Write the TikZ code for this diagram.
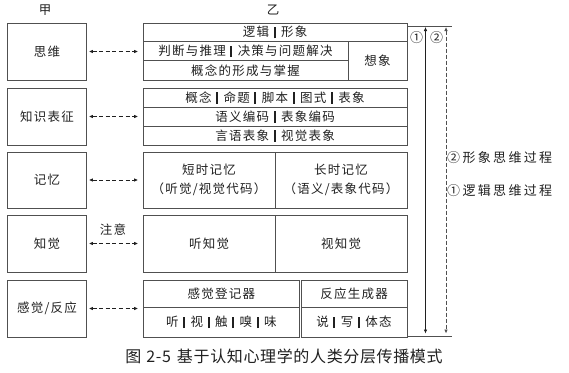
\documentclass[tikz,border=0pt]{standalone}
\usepackage{fontspec}
\setmainfont{Noto Sans CJK SC}
\newfontfamily\bodyf[LetterSpace=10]{Noto Sans CJK SC}
\newfontfamily\sidef[LetterSpace=18]{Noto Sans CJK SC}
\newfontfamily\capf[LetterSpace=4]{Noto Sans CJK SC}
\usetikzlibrary{arrows.meta}
\definecolor{linec}{HTML}{505050}
\definecolor{textc}{HTML}{202020}
\newcommand{\sepbar}{\hspace{4.5pt}\rule[-1.5pt]{2pt}{11.5pt}\hspace{5.5pt}}
\tikzset{
  cell/.style={draw=linec, line width=0.8pt, inner sep=0pt, text=textc,
    font=\bodyf\fontsize{12.5}{19}\selectfont, align=center},
  lbl/.style={inner sep=0pt, text=textc, font=\bodyf\fontsize{12.5}{19}\selectfont},
  dar/.style={draw=textc, line width=0.8pt, dash pattern=on 4pt off 2.6pt,
    {Latex[length=4pt,width=3.6pt]}-{Latex[length=4pt,width=3.6pt]},
    shorten <=2pt, shorten >=4.5pt},
}
\begin{document}
\begin{tikzpicture}[x=1pt,y=-1pt]
\useasboundingbox (0,0) rectangle (569,372);
% headers
\node[lbl] (hj) at (45,10) {甲};
\node[lbl] (hy) at (273,10) {乙};
% left column
\node[cell, minimum width=79pt, minimum height=57pt] (s1) at (47,51.5) {思维};
\node[cell, minimum width=79pt, minimum height=57pt] (s2) at (47,116.5) {知识表征};
\node[cell, minimum width=79pt, minimum height=56pt] (s3) at (47,180) {记忆};
\node[cell, minimum width=79pt, minimum height=57pt] (s4) at (47,243.5) {知觉};
\node[cell, minimum width=79pt, minimum height=57pt] (s5) at (47,308.5) {感觉/反应};
% section 1: thinking
\node[cell, minimum width=264pt, minimum height=18.5pt] (r1a) at (275,32.25) {逻辑\sepbar 形象};
\node[cell, minimum width=205pt, minimum height=19pt] (r1b) at (245.5,51) {判断与推理\sepbar 决策与问题解决};
\node[cell, minimum width=205pt, minimum height=19.5pt] (r1c) at (245.5,70.25) {概念的形成与掌握};
\node[cell, minimum width=59pt, minimum height=38.5pt] (r1d) at (377.5,60.75) {想象};
% section 2: knowledge representation
\node[cell, minimum width=264pt, minimum height=19pt] (r2a) at (275,97.5) {概念\sepbar 命题\sepbar 脚本\sepbar 图式\sepbar 表象};
\node[cell, minimum width=264pt, minimum height=19pt] (r2b) at (275,116.5) {语义编码\sepbar 表象编码};
\node[cell, minimum width=264pt, minimum height=19pt] (r2c) at (275,135.5) {言语表象\sepbar 视觉表象};
% section 3: memory
\node[cell, minimum width=132pt, minimum height=56pt] (r3a) at (209,180) {短时记忆\\（听觉/视觉代码）};
\node[cell, minimum width=132pt, minimum height=56pt] (r3b) at (341,180) {长时记忆\\（语义/表象代码）};
% section 4: perception
\node[cell, minimum width=132pt, minimum height=57pt] (r4a) at (209,243.5) {听知觉};
\node[cell, minimum width=132pt, minimum height=57pt] (r4b) at (341,243.5) {视知觉};
% section 5: sensation / response
\node[cell, minimum width=156.5pt, minimum height=27pt] (r5a) at (221.25,293.5) {感觉登记器};
\node[cell, minimum width=106pt, minimum height=27pt] (r5b) at (354,293.5) {反应生成器};
\node[cell, minimum width=156.5pt, minimum height=30pt] (r5c) at (221.25,322) {听\sepbar 视\sepbar 触\sepbar 嗅\sepbar 味};
\node[cell, minimum width=106pt, minimum height=30pt] (r5d) at (354,322) {说\sepbar 写\sepbar 体态};
% dashed double arrows
\draw[dar] (s1.east) -- (s1.east -| r1b.west);
\draw[dar] (s2.east) -- (r2b.west);
\draw[dar] (s3.east) -- (r3a.west);
\draw[dar] (s4.east) -- (r4a.west);
\draw[dar] (s5.east) -- (s5.east -| r5a.west);
\node[lbl] (att) at (113,230) {注意};
% right brackets
\coordinate (tl) at (407,26.5);
\coordinate (tr) at (452,26.5);
\coordinate (bl) at (407,336.5);
\coordinate (br) at (452,336.5);
\draw[draw=linec, line width=0.8pt] (tl) -- (tr);
\draw[draw=linec, line width=0.8pt] (bl) -- (br);
\coordinate (a1t) at (425.5,26.5);
\coordinate (a1b) at (425.5,336.5);
\coordinate (a2t) at (446,26.5);
\coordinate (a2b) at (446,336.5);
\draw[draw=textc, line width=0.7pt, {Latex[length=4pt,width=3.6pt]}-{Latex[length=4pt,width=3.6pt]}, shorten <=0.5pt, shorten >=3pt] (a1t) -- (a1b);
\draw[draw=linec, line width=0.8pt, dash pattern=on 4pt off 2pt, {Latex[length=4pt,width=3.6pt]}-{Latex[length=4pt,width=3.6pt]}, shorten <=0.5pt, shorten >=3pt] (a2t) -- (a2b);
\node[lbl, font=\fontsize{13}{14}\selectfont] (c1) at (416.5,38) {①};
\node[lbl, font=\fontsize{13}{14}\selectfont] (c2) at (436.5,38) {②};
\node[lbl, anchor=west, font=\sidef\fontsize{13}{14}\selectfont] (p2) at (447,157.5) {②形象思维过程};
\node[lbl, anchor=west, font=\sidef\fontsize{13}{14}\selectfont] (p1) at (447,190.5) {①逻辑思维过程};
% caption
\node[lbl, font=\capf\fontsize{16}{18}\selectfont] (cap) at (284,356) {图\hspace{5pt}2-5\hspace{6pt}基于认知心理学的人类分层传播模式};
\end{tikzpicture}
\end{document}
